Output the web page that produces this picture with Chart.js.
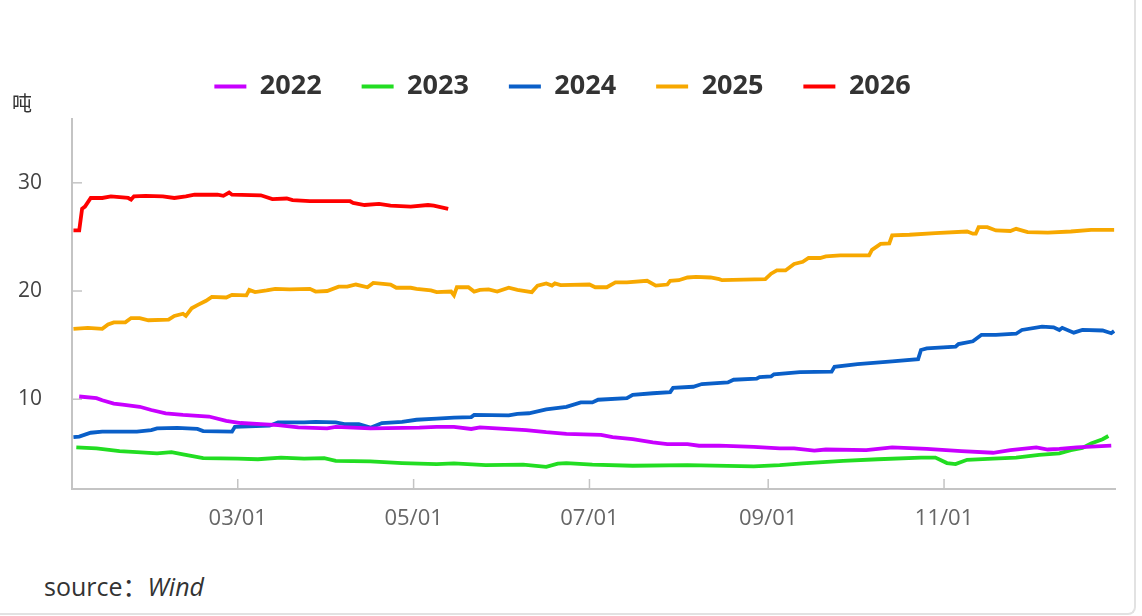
<!DOCTYPE html>
<html>
<head>
<meta charset="utf-8">
<script src="https://cdn.jsdelivr.net/npm/chart.js@4.4.1/dist/chart.umd.min.js"></script>
<style>
  body { margin: 0; background: #fff; font-family: "Open Sans", sans-serif; }
  .card {
    position: absolute; left: 0; top: 0; width: 1134px; height: 613px;
    border-right: 2px solid #e2e2e2; border-bottom: 2px solid #e2e2e2;
    border-bottom-right-radius: 8px;
  }
  #wrap { position: absolute; left: 0; top: 0; width: 1136px; height: 560px; }
  .unit { position: absolute; left: 12px; top: 88px; font: 20px "Noto Sans CJK SC", sans-serif; color: #333; }
  .source { position: absolute; left: 44px; top: 568px; font-size: 25px; line-height: 34px; color: #333; }
  .source .colon { font-family: "Noto Sans CJK SC", sans-serif; }
  .source i { font-style: italic; }
</style>
</head>
<body>
<div class="card"></div>
<div id="wrap"><canvas id="chart" width="1136" height="560"></canvas></div>
<div class="unit">吨</div>
<div class="source" lang="zh-CN">source<span class="colon">：</span><i>Wind</i></div>
<script>
// day of year (Jan 1 = 1) and value, per year
const days2022 = [5,11,13,17,20,26,30,35,41,50,56,61,68,74,81,91,94,106,123,129,135,141,144,160,167,174,186,190,197,204,209,216,220,227,239,248,253,260,264,278,287,299,311,322,328,337,341,345,351,363];
const vals2022 = [10.25,10.1,9.9,9.6,9.5,9.3,9.0,8.7,8.55,8.4,8.0,7.8,7.7,7.6,7.4,7.3,7.45,7.3,7.37,7.45,7.45,7.25,7.4,7.15,6.95,6.8,6.7,6.5,6.3,6.0,5.85,5.85,5.7,5.7,5.6,5.45,5.45,5.25,5.35,5.3,5.55,5.4,5.2,5.05,5.3,5.55,5.35,5.4,5.55,5.7];

const days2023 = [4,11,19,25,32,37,41,48,60,67,75,83,90,94,106,117,129,135,146,159,167,171,174,183,197,216,239,248,256,270,282,297,302,306,309,313,322,330,338,345,349,353,356,360,362];
const vals2023 = [5.55,5.45,5.2,5.1,5.0,5.1,4.9,4.55,4.5,4.45,4.6,4.5,4.55,4.3,4.25,4.1,4.0,4.07,3.9,3.95,3.75,4.05,4.1,3.95,3.85,3.9,3.8,3.9,4.07,4.3,4.45,4.6,4.6,4.1,4.0,4.4,4.5,4.6,4.85,5.0,5.3,5.5,5.9,6.3,6.6];

const days2024 = [3,5,9,13,25,30,32,39,46,48,58,59,71,74,83,87,94,97,102,106,110,117,122,129,135,141,142,154,157,161,167,174,179,183,185,195,197,204,210,211,218,221,230,232,240,241,245,246,255,266,267,275,287,296,297,299,309,310,315,318,323,330,332,339,343,345,346,350,353,360,363,364];
const vals2024 = [6.5,6.55,6.9,7.0,7.0,7.15,7.3,7.35,7.25,7.05,7.0,7.45,7.55,7.85,7.85,7.9,7.85,7.7,7.7,7.37,7.8,7.9,8.1,8.2,8.3,8.35,8.55,8.5,8.65,8.7,9.05,9.3,9.7,9.7,9.95,10.1,10.4,10.55,10.65,11.05,11.15,11.4,11.55,11.8,11.9,12.05,12.1,12.3,12.5,12.55,13.0,13.25,13.5,13.7,14.55,14.7,14.85,15.1,15.35,15.95,15.95,16.05,16.4,16.7,16.65,16.4,16.6,16.15,16.4,16.35,16.1,16.3];

const days2025 = [3,8,13,15,17,21,23,26,29,36,38,41,42,44,46,49,51,56,58,63,64,66,70,73,78,85,87,91,95,98,101,105,107,113,115,120,122,127,129,134,135,136,140,142,144,147,150,154,157,162,164,167,169,170,172,182,184,188,191,195,202,205,209,210,213,216,219,224,227,228,243,245,247,250,253,256,258,262,264,269,279,280,283,286,287,293,302,313,315,316,317,320,323,328,330,334,341,349,356,364];
const vals2025 = [16.5,16.6,16.5,16.9,17.1,17.1,17.5,17.5,17.3,17.35,17.7,17.9,17.7,18.4,18.7,19.1,19.45,19.4,19.65,19.6,20.1,19.9,20.05,20.2,20.15,20.2,19.95,20.0,20.4,20.4,20.6,20.35,20.75,20.6,20.3,20.3,20.2,20.05,19.9,19.95,19.6,20.35,20.35,19.95,20.1,20.15,19.95,20.3,20.1,19.9,20.5,20.7,20.5,20.7,20.55,20.6,20.35,20.35,20.8,20.8,20.95,20.5,20.6,20.95,21.0,21.25,21.3,21.25,21.1,21.0,21.1,21.6,21.9,21.9,22.5,22.7,23.05,23.05,23.2,23.3,23.3,23.8,24.35,24.4,25.15,25.2,25.35,25.5,25.3,25.3,25.9,25.9,25.6,25.55,25.75,25.45,25.4,25.5,25.65,25.65];

const days2026 = [3,5,6,7,9,13,16,22,23,24,28,34,38,42,45,53,55,57,58,68,72,77,79,85,99,100,104,109,113,120,126,128,133];
const vals2026 = [25.6,25.6,27.6,27.8,28.6,28.6,28.75,28.6,28.45,28.75,28.8,28.75,28.6,28.75,28.9,28.9,28.8,29.1,28.9,28.85,28.5,28.55,28.4,28.3,28.3,28.15,27.95,28.05,27.9,27.8,27.95,27.9,27.6];

const tickDays = [60, 121, 182, 244, 305];
const tickLabels = ['03/01', '05/01', '07/01', '09/01', '11/01'];
const yTicks = [10, 20, 30];

const series = [
    { label: '2022', days: days2022, vals: vals2022, color: '#c800ff' },
    { label: '2023', days: days2023, vals: vals2023, color: '#22dd22' },
    { label: '2024', days: days2024, vals: vals2024, color: '#0a5fc8' },
    { label: '2025', days: days2025, vals: vals2025, color: '#f7a800' },
    { label: '2026', days: days2026, vals: vals2026, color: '#ff0000' }
];

// short tick marks pointing into the plot area
const innerTicks = {
    id: 'innerTicks',
    beforeDatasetsDraw(chart) {
        const { ctx, chartArea: a, scales: { x, y } } = chart;
        ctx.save();
        ctx.strokeStyle = '#c4c4c4';
        ctx.lineWidth = 1.5;
        y.ticks.forEach(t => {
            const py = y.getPixelForValue(t.value);
            ctx.beginPath(); ctx.moveTo(a.left, py); ctx.lineTo(a.left + 10, py); ctx.stroke();
        });
        x.ticks.forEach(t => {
            const px = x.getPixelForValue(t.value);
            ctx.beginPath(); ctx.moveTo(px, a.bottom); ctx.lineTo(px, a.bottom - 10); ctx.stroke();
        });
        ctx.restore();
    }
};

// legend takes the band above the plot, nudged a bit right
const legendBox = {
    id: 'legendBox',
    beforeInit(chart) {
        const fit = chart.legend.fit;
        chart.legend.fit = function () {
            fit.bind(chart.legend)();
            this.height = 86;
        };
    },
    afterLayout(chart) {
        chart.legend.left += 5;
        chart.legend.right += 5;
    }
};

new Chart(document.getElementById('chart'), {
    type: 'line',
    data: {
        datasets: series.map(s => ({
            label: s.label,
            data: s.days.map((d, i) => ({ x: d, y: s.vals[i] })),
            borderColor: s.color,
            backgroundColor: s.color,
            borderWidth: 3.8,
            pointRadius: 0,
            tension: 0
        }))
    },
    options: {
        responsive: false,
        animation: false,
        devicePixelRatio: 1,
        layout: { padding: { top: 33, right: 21, left: 0, bottom: 0 } },
        plugins: {
            tooltip: { enabled: false },
            legend: {
                position: 'top',
                labels: {
                    usePointStyle: true,
                    pointStyle: 'line',
                    pointStyleWidth: 32,
                    padding: 40,
                    color: '#333',
                    font: { family: 'Open Sans', size: 27, weight: 'bold' }
                }
            }
        },
        scales: {
            x: {
                type: 'linear',
                min: 2.5,
                max: 364.3,
                grid: { display: false, drawTicks: false },
                border: { display: true, color: '#c4c4c4', width: 2 },
                afterBuildTicks: scale => { scale.ticks = tickDays.map(v => ({ value: v })); },
                afterFit: scale => { scale.height = 71; },
                ticks: {
                    autoSkip: false,
                    maxRotation: 0,
                    padding: 17,
                    color: '#666',
                    font: { family: 'Open Sans', size: 22 },
                    callback: v => tickLabels[tickDays.indexOf(v)]
                }
            },
            y: {
                min: 1.7,
                max: 35.9,
                grid: { display: false, drawTicks: false },
                border: { display: true, color: '#c4c4c4', width: 2 },
                afterBuildTicks: scale => { scale.ticks = yTicks.map(v => ({ value: v })); },
                afterFit: scale => { scale.width = 72; },
                ticks: {
                    padding: 30,
                    color: '#444',
                    font: { family: 'Open Sans', size: 21 }
                }
            }
        }
    },
    plugins: [innerTicks, legendBox]
});
</script>
</body>
</html>
